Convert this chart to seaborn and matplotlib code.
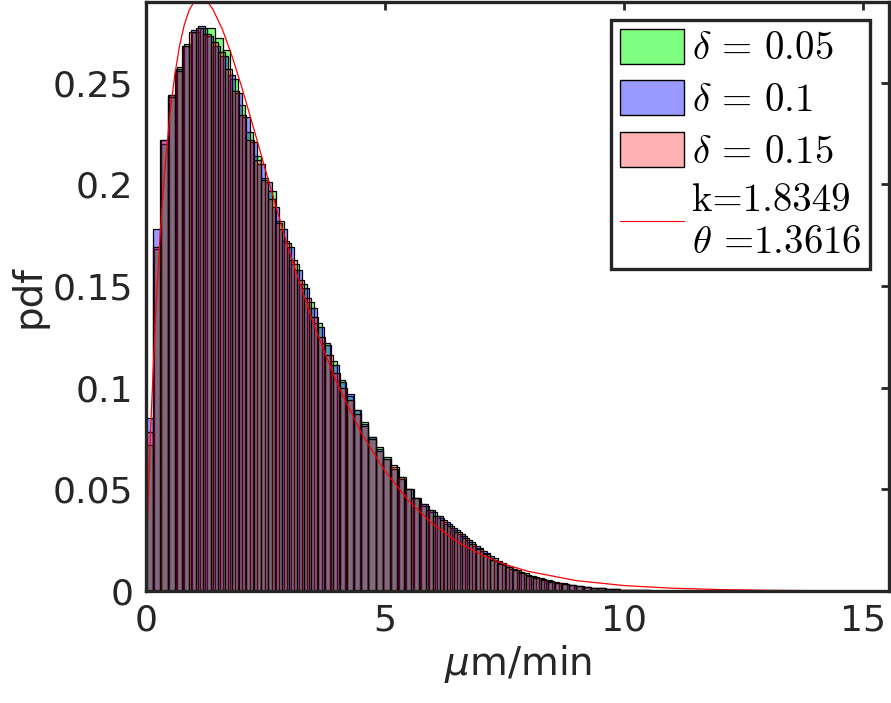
import numpy as np
import pandas as pd
import matplotlib
matplotlib.use("Agg")
import matplotlib.pyplot as plt
import seaborn as sns
from matplotlib.patches import Patch
from matplotlib.lines import Line2D

sns.set_theme(style="white")
plt.rcParams['font.family'] = ['DejaVu Sans']
plt.rcParams['mathtext.fontset'] = 'dejavusans'

# bar heights (pdf), one list per delta
pdf_d005 = [0.072, 0.168, 0.220, 0.244, 0.258, 0.269, 0.275, 0.277, 0.277, 0.272,
            0.266, 0.252, 0.239, 0.226, 0.214, 0.203, 0.197, 0.182, 0.171, 0.161,
            0.151, 0.142, 0.132, 0.122, 0.113, 0.104, 0.096, 0.089, 0.083, 0.076,
            0.071, 0.066, 0.061, 0.056, 0.050, 0.046, 0.042, 0.039, 0.036, 0.033,
            0.030, 0.027, 0.024, 0.021, 0.0185, 0.0160, 0.0138, 0.0119, 0.0102, 0.0087,
            0.0074, 0.0062, 0.0052, 0.0044, 0.0037, 0.0031, 0.0025, 0.0020, 0.0016, 0.0013,
            0.0011, 0.0009, 0.0007, 0.0005, 0.0004, 0.0003]
pdf_d010 = [0.085, 0.178, 0.222, 0.244, 0.257, 0.268, 0.276, 0.278, 0.273, 0.268,
            0.263, 0.254, 0.245, 0.233, 0.221, 0.210, 0.201, 0.189, 0.178, 0.169,
            0.158, 0.149, 0.139, 0.130, 0.121, 0.111, 0.103, 0.097, 0.089, 0.082,
            0.076, 0.070, 0.065, 0.060, 0.055, 0.050, 0.046, 0.043, 0.040, 0.037,
            0.034, 0.031, 0.028, 0.025, 0.022, 0.0195, 0.017, 0.0148, 0.0128, 0.0110,
            0.0095, 0.0081, 0.0069, 0.0058, 0.0049, 0.0041, 0.0035, 0.0029, 0.0024, 0.0020,
            0.0016, 0.0013, 0.0011, 0.0009, 0.0007, 0.0005, 0.0004, 0.0003]
pdf_d015 = [0.078, 0.169, 0.222, 0.243, 0.256, 0.268, 0.275, 0.277, 0.274, 0.270,
            0.265, 0.257, 0.246, 0.234, 0.222, 0.212, 0.202, 0.193, 0.181, 0.172,
            0.163, 0.153, 0.144, 0.135, 0.125, 0.116, 0.107, 0.100, 0.094, 0.087,
            0.081, 0.075, 0.069, 0.065, 0.062, 0.056, 0.050, 0.046, 0.043, 0.040,
            0.037, 0.035, 0.032, 0.029, 0.026, 0.023, 0.0205, 0.018, 0.0155, 0.0135,
            0.0118, 0.0102, 0.0088, 0.0075, 0.0064, 0.0054, 0.0046, 0.0039, 0.0033, 0.0028,
            0.0023, 0.0019, 0.0016, 0.0013, 0.0011, 0.0009, 0.0007, 0.0005, 0.0004, 0.0003]

# fitted gamma curve
fit_x = [0, 0.02, 0.05, 0.1, 0.2, 0.3, 0.4, 0.5, 0.6, 0.7, 0.8, 0.9, 1.0, 1.1, 1.2,
         1.3, 1.4, 1.6, 1.8, 2.0, 2.25, 2.5, 2.75, 3.0, 3.5, 4.0, 4.5, 5.0, 5.5, 6.0,
         6.5, 7.0, 7.5, 8.0, 9.0, 10.0, 11.0, 12.0, 13.0, 14.0, 15.0, 15.5]
fit_y = [0, 0.0227, 0.0477, 0.0819, 0.136, 0.1773, 0.2094, 0.2345, 0.2537, 0.2681,
         0.2785, 0.2856, 0.2897, 0.2915, 0.2913, 0.2894, 0.2861, 0.2761, 0.263, 0.248,
         0.2277, 0.2069, 0.1865, 0.1668, 0.1315, 0.1019, 0.0778, 0.0589, 0.0442, 0.0329,
         0.0244, 0.01795, 0.01317, 0.00963, 0.0051, 0.00267, 0.00139, 0.0007, 0.00035,
         0.00018, 0.00009, 0.00006]

labels = [r"$\delta\,=\,0.05$", r"$\delta\,=\,0.1$", r"$\delta\,=\,0.15$"]
fit_label = "k=1.8349\n$\\theta$ =1.3616"

series = [
    (pdf_d005, 0.16, (0, 1, 0), 0.5),
    (pdf_d010, 0.155, (0, 0, 1), 0.4),
    (pdf_d015, 0.15, (1, 0, 0), 0.3),
]

fig = plt.figure(figsize=(8.91, 7.03), dpi=100)
ax = fig.add_axes([0.1639, 0.1593, 0.834, 0.838])

for heights, width, color, alpha in series:
    edges = np.arange(len(heights) + 1) * width
    df = pd.DataFrame({"x": edges[:-1] + width / 2, "w": heights})
    sns.histplot(data=df, x="x", weights="w", bins=edges.tolist(), stat="count",
                 color=color, alpha=alpha, edgecolor="black", linewidth=0.9, ax=ax)

sns.lineplot(x=fit_x, y=fit_y, color="red", linewidth=0.9, ax=ax)

ax.set_xlim(0, 15.54)
ax.set_ylim(0, 0.2898)
ax.set_xticks([0, 5, 10, 15])
ax.set_xticklabels(["0", "5", "10", "15"])
ax.set_yticks([0, 0.05, 0.1, 0.15, 0.2, 0.25])
ax.set_yticklabels(["0", "0.05", "0.1", "0.15", "0.2", "0.25"])
ax.tick_params(direction="in", length=6, width=2, labelsize=26, colors="#262626",
               top=True, right=True, pad=9)
for s in ax.spines.values():
    s.set_visible(True)
    s.set_color("#262626")
    s.set_linewidth(2.4)

ax.set_xlabel(r"$\mu$m/min", fontsize=28, color="#262626", labelpad=4)
ax.set_ylabel("pdf", fontsize=28, color="#262626", labelpad=4)

handles = [Patch(facecolor=(*c, a), edgecolor="black", linewidth=1.0)
           for _, _, c, a in series]
handles.append(Line2D([], [], color="red", linewidth=0.8))
leg = ax.legend(handles, labels + [fit_label], loc="upper right",
                bbox_to_anchor=(0.974, 0.969), borderaxespad=0,
                fontsize=28, frameon=True, fancybox=False, framealpha=1,
                handlelength=1.65, handleheight=1.0, handletextpad=0.2,
                labelspacing=0.33, borderpad=0.22)
for t in leg.get_texts():
    t.set_math_fontfamily("cm")
    t.set_family("cmr10")
    t.set_color("black")
leg.get_frame().set_edgecolor("#262626")
leg.get_frame().set_linewidth(2.4)

fig.savefig("out.png", dpi=100)
